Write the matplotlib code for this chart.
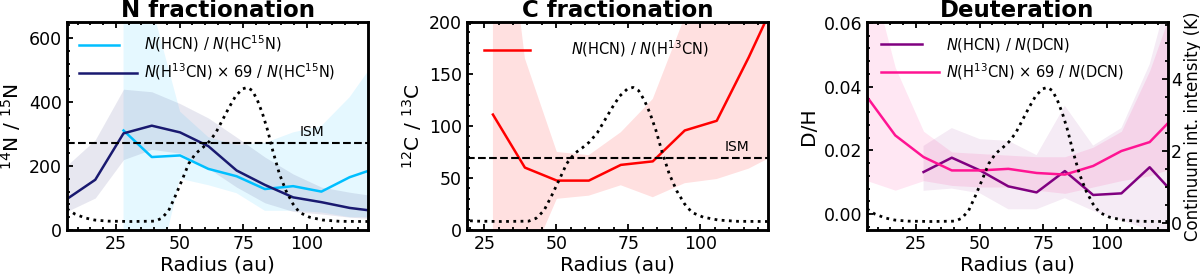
import numpy as np
import matplotlib
matplotlib.use('Agg')
import matplotlib.pyplot as plt
from matplotlib.ticker import MultipleLocator, AutoMinorLocator
from matplotlib.legend_handler import HandlerLine2D

nan = np.nan

# radii of the radial profile points (au)
radius = [5.8, 16.9, 28.0, 39.1, 50.2, 61.3, 72.4, 83.5, 94.6, 105.7, 116.8, 127.9]

# N fractionation
hcn_hc15n = [nan, nan, 311, 228, 233, 191, 168, 128, 137, 120, 165, 195]
hcn_hc15n_lo = [nan, nan, -300, -210, 160, 140, 115, 60, 60, 55, 40, 40]
hcn_hc15n_hi = [nan, nan, 1000, 700, 370, 290, 265, 272, 305, 325, 415, 540]
h13cn_hc15n = [97, 157, 302, 326, 305, 262, 186, 141, 102, 87, 69, 58]
h13cn_hc15n_lo = [58, 100, 220, 252, 240, 193, 134, 85, 58, 50, 40, 35]
h13cn_hc15n_hi = [202, 282, 440, 432, 395, 350, 290, 228, 175, 134, 118, 105]

# C fractionation
hcn_h13cn = [nan, nan, 111, 60, 47.5, 47.5, 62.6, 66, 95.7, 105, 166, 232]
hcn_h13cn_lo = [nan, nan, -100, -41, 30, 33, 43, 31.5, 45, 49, 59, 75]
hcn_h13cn_hi = [nan, nan, 420, 165, 75, 72, 94, 126, 205, 300, 400, 500]

# Deuteration
hcn_dcn = [nan, nan, 0.0132, 0.0177, 0.0137, 0.0087, 0.0068, 0.0135, 0.0060, 0.0065, 0.0147, 0.0050]
hcn_dcn_lo = [nan, nan, 0.0073, 0.0080, 0.0065, 0.0015, 0.0015, 0.0050, 0.0010, -0.0020, -0.0050, -0.0100]
hcn_dcn_hi = [nan, nan, 0.0214, 0.0270, 0.0235, 0.0230, 0.0185, 0.0340, 0.0215, 0.0270, 0.0470, 0.0800]
h13cn_dcn = [0.0368, 0.0247, 0.0179, 0.0137, 0.0137, 0.0142, 0.0129, 0.0124, 0.0151, 0.0198, 0.0226, 0.0318]
h13cn_dcn_lo = [0.0105, 0.0075, 0.0105, 0.0090, 0.0085, 0.0085, 0.0075, 0.0065, 0.0085, 0.0105, 0.0120, 0.0150]
h13cn_dcn_hi = [0.0800, 0.0460, 0.0260, 0.0195, 0.0190, 0.0185, 0.0180, 0.0180, 0.0210, 0.0260, 0.0450, 0.0700]

# continuum intensity profile (K)
cont_r = [5.8, 8.8, 12.8, 16.7, 22, 31, 40.4, 43, 45.7, 48.3, 51, 53.6, 56.3, 58.9, 61.5,
          64.2, 66.8, 69.4, 72, 74.7, 76.7, 78.6, 80.6, 82.6, 84.6, 86.6, 89.2, 91.8,
          94.5, 97.1, 101, 106.3, 112.9, 124]
cont_k = [0.40, 0.26, 0.15, 0.09, 0.06, 0.05, 0.06, 0.14, 0.35, 0.75, 1.20, 1.65, 1.93, 2.08, 2.25,
          2.50, 2.85, 3.20, 3.52, 3.72, 3.76, 3.67, 3.40, 3.03, 2.57, 2.01, 1.37, 0.90,
          0.54, 0.30, 0.17, 0.09, 0.055, 0.05]


class ShortLine(HandlerLine2D):
    # legend handle drawn shorter than the handle box
    def __init__(self, frac, **kw):
        super().__init__(**kw)
        self.frac = frac

    def create_artists(self, legend, orig_handle, xdescent, ydescent, width, height, fontsize, trans):
        return super().create_artists(legend, orig_handle, xdescent, ydescent,
                                      width * self.frac, height, fontsize, trans)


fig = plt.figure(figsize=(12, 2.76), dpi=100)
lefts = [67 / 1200, 467 / 1200, 867 / 1200]
axs = [fig.add_axes([l, 46 / 276, 301 / 1200, 208 / 276]) for l in lefts]


def style(ax, right=True):
    for s in ax.spines.values():
        s.set_linewidth(1.8)
    ax.xaxis.set_major_locator(MultipleLocator(25))
    ax.xaxis.set_minor_locator(MultipleLocator(5))
    ax.yaxis.set_minor_locator(AutoMinorLocator(5))
    ax.tick_params(which='both', direction='in', top=True, right=right, labelsize=12.5, width=1.3)
    ax.tick_params(which='major', length=4)
    ax.tick_params(which='minor', length=2)
    ax.set_xlabel('Radius (au)', fontsize=14.5, labelpad=2)


def continuum(ax, show):
    tw = ax.twinx()
    tw.plot(cont_r, cont_k, color='black', lw=2, linestyle=(0, (1, 1.6)))
    tw.set_ylim(-0.185, 5.57)
    if show:
        tw.yaxis.set_major_locator(MultipleLocator(2))
        tw.yaxis.set_minor_locator(AutoMinorLocator(4))
        tw.tick_params(which='both', direction='in', labelsize=12.5, width=1.3, pad=2)
        tw.tick_params(which='major', length=4)
        tw.tick_params(which='minor', length=2)
        tw.set_ylabel('Continuum int. intensity (K)', fontsize=12, va='center')
        tw.yaxis.set_label_coords(1.084, 0.5)
    else:
        tw.set_yticks([])
    for s in tw.spines.values():
        s.set_linewidth(1.8)
    return tw


# N fractionation
ax = axs[0]
ax.fill_between(radius, hcn_hc15n_lo, hcn_hc15n_hi, color='deepskyblue', alpha=0.1, lw=0)
ax.fill_between(radius, h13cn_hc15n_lo, h13cn_hc15n_hi, color='midnightblue', alpha=0.1, lw=0)
l1, = ax.plot(radius, hcn_hc15n, color='deepskyblue', lw=1.8)
l2, = ax.plot(radius, h13cn_hc15n, color='midnightblue', lw=1.8)
ax.axhline(272, color='black', ls='--', lw=1.5)
ax.text(102, 285, 'ISM', fontsize=10, ha='center', va='bottom')
ax.set_xlim(5.8, 124)
ax.set_ylim(0, 650)
ax.yaxis.set_major_locator(MultipleLocator(200))
style(ax)
ax.set_ylabel(r'$^{14}$N / $^{15}$N', fontsize=14.5, labelpad=4)
ax.set_title('N fractionation', fontsize=16.5, fontweight='bold', pad=3)
ax.legend([l1, l2], [r'$N$(HCN) / $N$(HC$^{15}$N)', r'$N$(H$^{13}$CN) $\times$ 69 / $N$(HC$^{15}$N)'],
          loc='upper left', bbox_to_anchor=(0, 1), borderaxespad=0.4, frameon=False,
          fontsize=10.5, handlelength=4, handletextpad=0.45, labelspacing=0.5,
          handler_map={l1: ShortLine(0.69)})
continuum(ax, False)

# C fractionation
ax = axs[1]
ax.fill_between(radius, hcn_h13cn_lo, hcn_h13cn_hi, color='red', alpha=0.12, lw=0)
l3, = ax.plot(radius, hcn_h13cn, color='red', lw=1.8)
ax.axhline(69, color='black', ls='--', lw=1.5)
ax.text(112.7, 73, 'ISM', fontsize=10, ha='center', va='bottom')
ax.set_xlim(19, 123.5)
ax.set_ylim(0, 200)
ax.yaxis.set_major_locator(MultipleLocator(50))
style(ax)
ax.set_ylabel(r'$^{12}$C / $^{13}$C', fontsize=14.5, labelpad=4)
ax.set_title('C fractionation', fontsize=16.5, fontweight='bold', pad=3)
ax.legend([l3], [r'$N$(HCN) / $N$(H$^{13}$CN)'],
          loc='upper left', bbox_to_anchor=(0, 1), borderaxespad=0.75, frameon=False,
          fontsize=10.5, handlelength=4, handletextpad=2.0,
          handler_map={l3: ShortLine(0.8)})
continuum(ax, False)

# Deuteration
ax = axs[2]
ax.fill_between(radius, h13cn_dcn_lo, h13cn_dcn_hi, color='deeppink', alpha=0.1, lw=0)
ax.fill_between(radius, hcn_dcn_lo, hcn_dcn_hi, color='purple', alpha=0.08, lw=0)
l4, = ax.plot(radius, hcn_dcn, color='purple', lw=1.8)
l5, = ax.plot(radius, h13cn_dcn, color='deeppink', lw=1.8)
ax.set_xlim(5.8, 124)
ax.set_ylim(-0.005, 0.0603)
ax.yaxis.set_major_locator(MultipleLocator(0.02))
ax.yaxis.set_major_formatter(matplotlib.ticker.FormatStrFormatter('%.2f'))
style(ax, right=False)
ax.set_ylabel('D/H', fontsize=14.5, labelpad=4)
ax.set_title('Deuteration', fontsize=16.5, fontweight='bold', pad=3)
ax.legend([l4, l5], [r'$N$(HCN) / $N$(DCN)', r'$N$(H$^{13}$CN) $\times$ 69 / $N$(DCN)'],
          loc='upper left', bbox_to_anchor=(0, 1), borderaxespad=0.55, frameon=False,
          fontsize=10.5, handlelength=4, handletextpad=0.45, labelspacing=0.5,
          handler_map={l4: ShortLine(0.7)})
continuum(ax, True)

fig.savefig('out.png', dpi=100)
